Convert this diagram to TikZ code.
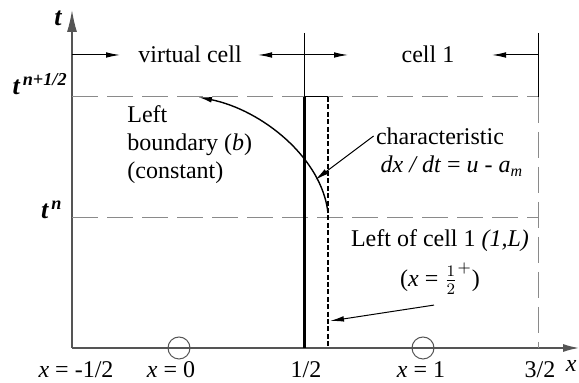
\documentclass[tikz,border=0pt]{standalone}
\usepackage{fontspec}
\setmainfont{Liberation Serif}
\usetikzlibrary{arrows.meta}
\definecolor{axisgray}{HTML}{555555}
\definecolor{guidegray}{HTML}{8A8A8A}

\begin{document}
\begin{tikzpicture}[x=0.5pt,y=-0.5pt,>={Latex[length=7pt,width=2.8pt]},font=\fontsize{12}{14}\selectfont,
  axis/.style={axisgray,line width=0.7pt},guide/.style={guidegray,line width=0.5pt,dash pattern=on 13pt off 4.5pt},
  lbl/.style={inner sep=1pt},tlbl/.style={inner sep=0pt,font=\fontsize{13}{15}\selectfont\bfseries\itshape}]
\useasboundingbox (0,0) rectangle (579,383);
\draw[axis,-{Latex[length=11pt,width=5pt]}] (72,348)--(72,10);\draw[axis,-{Latex[length=8pt,width=4pt]}] (72,348)--(579,348);
\node[tlbl] (taxis) at (58,18){t};\node[tlbl,anchor=east] (thalf) at (68,84){t\textsuperscript{\,n+1/2}};\node[tlbl,anchor=east] (tn) at (63,210){t\textsuperscript{\,n}};
\node[lbl,anchor=east] (xaxis) at (579,366){\textit{x}};
\draw[guide] (72,97)--(538,97);\draw[guide] (72,218)--(538,218);\draw[guide] (538,97)--(538,348);
\draw[black,line width=0.4pt] (304,33)--(304,97);\draw[black,line width=0.4pt] (538,33)--(538,97);
\node[lbl] (vcell) at (190,54){virtual cell};\node[lbl] (cellone) at (428,54){cell 1};
\draw[->,line width=0.5pt] (72,55)--(120,55);\draw[->,line width=0.5pt] (304,55)--(258,55);
\draw[->,line width=0.5pt] (304,55)--(348,55);\draw[->,line width=0.5pt] (538,55)--(492,55);
\draw[line width=1.5pt] (304,97)--(304,348);\draw[line width=0.5pt] (304,97)--(328,97);
\draw[line width=0.8pt,dash pattern=on 2.5pt off 1.2pt] (328,97)--(328,348);
\draw[->,line width=0.7pt] (328,213) .. controls (322,158) and (262,110) .. (198,97);
\node[lbl,anchor=west,align=left] (lbound) at (125,145){Left\\boundary (\textit{b})\\(constant)};
\node[lbl] (char) at (440,136){characteristic};\node[lbl] (chareq) at (452,166){\textit{dx / dt} = \textit{u} - \textit{a}\textsubscript{\textit{m}}};
\coordinate (chartip) at (315,180);\draw[->,line width=0.5pt] (char.west)--(chartip);
\node[lbl] (leftcell) at (440,241){Left of cell 1 \textit{(1,L)}};\node[inner sep=0pt] (halfplus) at (440,279){(\textit{x} = $\frac{1}{2}^{+}$)};
\coordinate (halftip) at (330,321);\draw[->,line width=0.5pt] ([xshift=-3pt,yshift=-5pt]halfplus.south)--(halftip);
\draw[axisgray,line width=0.5pt] (179,348) circle (11);\draw[axisgray,line width=0.5pt] (423,348) circle (11);
\node[lbl] (xm) at (76,370){\textit{x} = -1/2};\node[lbl] (xz) at (171,370){\textit{x} = 0};\node[lbl] (xh) at (306,370){1/2};
\node[lbl] (xo) at (421,370){\textit{x} = 1};\node[lbl] (xt) at (540,370){3/2};
\end{tikzpicture}
\end{document}
